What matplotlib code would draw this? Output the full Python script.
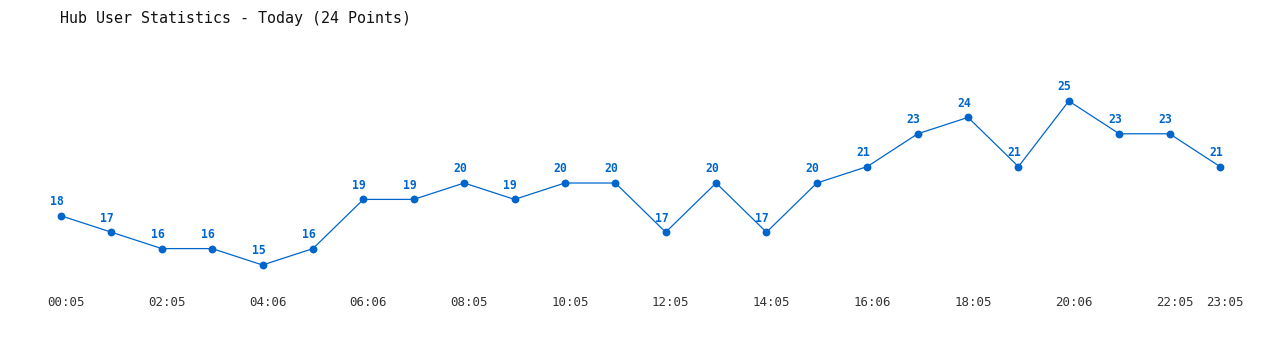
import matplotlib
matplotlib.use('Agg')
import matplotlib.pyplot as plt
import matplotlib.transforms as mtransforms

values = [18, 17, 16, 16, 15, 16, 19, 19, 20, 19, 20, 20,
          17, 20, 17, 20, 21, 23, 24, 21, 25, 23, 23, 21]
tick_pos = [0, 2, 4, 6, 8, 10, 12, 14, 16, 18, 20, 22, 23]
tick_labels = ['00:05', '02:05', '04:06', '06:06', '08:05', '10:05', '12:05',
               '14:05', '16:06', '18:05', '20:06', '22:05', '23:05']
title = 'Hub User Statistics - Today (24 Points)'

W, H = 1280, 350
fig = plt.figure(figsize=(W / 100, H / 100), dpi=100)
# axes placed in pixels: x 61..1220, y(15)=265, y(25)=101 from top
ax = fig.add_axes([61 / W, (H - 265) / H, (1220 - 61) / W, (265 - 101) / H])
ax.set_xlim(0, 23)
ax.set_ylim(15, 25)
ax.axis('off')

blue = '#0066cc'
x = list(range(len(values)))
ax.plot(x, values, color=blue, lw=0.9, clip_on=False)
ax.scatter(x, values, s=32, color=blue, zorder=3, clip_on=False, linewidths=0)

for xi, v in zip(x, values):
    ax.annotate(str(v), (xi, v), xytext=(-3, 5.5), textcoords='offset points',
                ha='center', va='bottom', color=blue, fontsize=8.3,
                fontweight='bold', family='DejaVu Sans Mono')

off = mtransforms.offset_copy(ax.transData, fig=fig, x=5, y=0, units='dots')
blend = mtransforms.blended_transform_factory(off, fig.transFigure)
for p, lab in zip(tick_pos, tick_labels):
    ax.text(p, 1 - 303 / H, lab, transform=blend, ha='center', va='center',
            color='#333333', fontsize=9, family='DejaVu Sans Mono')

fig.text(60 / W, 1 - 18 / H, title, ha='left', va='center', color='#111111',
         fontsize=10.8, family='DejaVu Sans Mono')

fig.savefig('out.png', dpi=100, facecolor='white')
